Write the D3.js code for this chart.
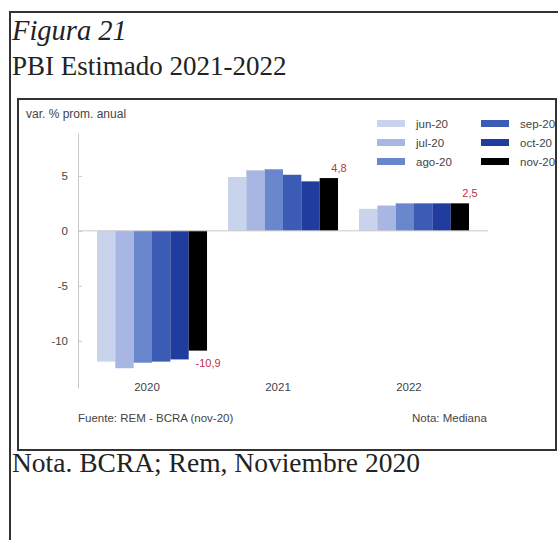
<!DOCTYPE html>
<html>
<head>
<meta charset="utf-8">
<script src="https://cdn.jsdelivr.net/npm/d3@7"></script>
<style>
  body { margin: 0; background: #fff; }
  svg { display: block; }
</style>
</head>
<body>
<div id="chart"></div>
<script>
// Data (var. % prom. anual)
const years = ['2020', '2021', '2022'];
const surveys = ['jun-20', 'jul-20', 'ago-20', 'sep-20', 'oct-20', 'nov-20'];
const junValues = [-11.9, 4.9, 2.0];
const julValues = [-12.5, 5.5, 2.3];
const agoValues = [-12.0, 5.6, 2.5];
const sepValues = [-11.9, 5.1, 2.5];
const octValues = [-11.7, 4.5, 2.5];
const novValues = [-10.9, 4.8, 2.5];
const yTicks = [5, 0, -5, -10];

const seriesValues = [junValues, julValues, agoValues, sepValues, octValues, novValues];
const colors = ['#c9d3ec', '#a7b6e2', '#6a86cc', '#3c5bb5', '#203c9e', '#000000'];

const width = 558;
const height = 540;

const svg = d3.select('#chart')
  .append('svg')
  .attr('width', width)
  .attr('height', height);

// Outer frame (open on the right, runs off the page)
svg.append('path')
  .attr('d', `M10,${height + 2} L10,12 L${width + 2},12`)
  .attr('fill', 'none')
  .attr('stroke', '#333')
  .attr('stroke-width', 2);

// Caption
const serif = '"Liberation Serif", "Times New Roman", serif';

svg.append('text')
  .attr('x', 12)
  .attr('y', 40)
  .attr('font-family', serif)
  .attr('font-style', 'italic')
  .attr('font-size', '28.5px')
  .attr('fill', '#222')
  .text('Figura 21');

svg.append('text')
  .attr('x', 12)
  .attr('y', 75)
  .attr('font-family', serif)
  .attr('font-size', '27px')
  .attr('fill', '#222')
  .text('PBI Estimado 2021-2022');

svg.append('text')
  .attr('x', 12)
  .attr('y', 472)
  .attr('font-family', serif)
  .attr('font-size', '27.5px')
  .attr('fill', '#222')
  .text('Nota. BCRA; Rem, Noviembre 2020');

// Inner chart box
svg.append('rect')
  .attr('x', 18)
  .attr('y', 99)
  .attr('width', 538)
  .attr('height', 351)
  .attr('fill', '#fff')
  .attr('stroke', '#333')
  .attr('stroke-width', 2);

const sans = '"Liberation Sans", Arial, sans-serif';

svg.append('text')
  .attr('x', 26)
  .attr('y', 118)
  .attr('font-family', sans)
  .attr('font-size', '12px')
  .attr('fill', '#444')
  .text('var. % prom. anual');

// Scales
const x0 = d3.scaleBand()
  .domain(years)
  .range([78, 488])
  .paddingInner(0.16)
  .paddingOuter(0.145);

const x1 = d3.scaleBand()
  .domain(surveys)
  .range([0, x0.bandwidth()]);

const y = d3.scaleLinear()
  .domain([-14.3, 8.9])
  .range([388, 133]);

// Y axis
const yAxis = svg.append('g')
  .attr('transform', 'translate(78,0)')
  .call(d3.axisLeft(y)
    .tickValues(yTicks)
    .tickFormat(d3.format('d'))
    .tickSize(-4)
    .tickSizeOuter(0)
    .tickPadding(10));

yAxis.select('.domain').attr('stroke', '#c8c8c8');
yAxis.selectAll('.tick line').attr('stroke', '#c8c8c8');
yAxis.selectAll('.tick text')
  .attr('font-family', sans)
  .attr('font-size', '11.5px')
  .attr('fill', '#444')
  .text(d => d < 0 ? '-' + Math.abs(d) : d);

// Bars
const groups = svg.append('g')
  .selectAll('g')
  .data(surveys)
  .join('g')
  .attr('fill', (d, i) => colors[i]);

groups.selectAll('rect')
  .data((s, i) => years.map((yr, j) => ({ year: yr, survey: s, value: seriesValues[i][j] })))
  .join('rect')
  .attr('x', d => x0(d.year) + x1(d.survey))
  .attr('y', d => y(Math.max(0, d.value)))
  .attr('width', x1.bandwidth())
  .attr('height', d => Math.abs(y(d.value) - y(0)));

// Zero line
svg.append('line')
  .attr('x1', 78)
  .attr('x2', 488)
  .attr('y1', y(0))
  .attr('y2', y(0))
  .attr('stroke', '#c8c8c8')
  .attr('stroke-width', 1);

// Labels on the latest survey
const fmt = v => d3.format('.1f')(v).replace('.', ',').replace('−', '-');
svg.append('g')
  .selectAll('text')
  .data(years.map((yr, j) => ({ year: yr, value: novValues[j] })))
  .join('text')
  .attr('x', d => x0(d.year) + x1('nov-20') + x1.bandwidth() + 1)
  .attr('y', d => d.value >= 0 ? y(d.value) - 6 : y(d.value) + 16)
  .attr('text-anchor', 'middle')
  .attr('font-family', sans)
  .attr('font-size', '11px')
  .attr('fill', '#c0304a')
  .text(d => fmt(d.value));

// X labels
svg.append('g')
  .selectAll('text')
  .data(years)
  .join('text')
  .attr('x', d => x0(d) + x0.bandwidth() / 2 - 5)
  .attr('y', 391)
  .attr('text-anchor', 'middle')
  .attr('font-family', sans)
  .attr('font-size', '11.5px')
  .attr('fill', '#444')
  .text(d => d);

// Legend (two columns of three)
const legend = svg.append('g')
  .selectAll('g')
  .data(surveys)
  .join('g')
  .attr('transform', (d, i) => `translate(${i < 3 ? 377 : 481},${120 + (i % 3) * 19})`);

legend.append('rect')
  .attr('width', 28)
  .attr('height', 7)
  .attr('fill', (d, i) => colors[i]);

legend.append('text')
  .attr('x', 39)
  .attr('y', 7.5)
  .attr('font-family', sans)
  .attr('font-size', '11.5px')
  .attr('fill', '#444')
  .text(d => d);

// Source / note
svg.append('text')
  .attr('x', 78)
  .attr('y', 422)
  .attr('font-family', sans)
  .attr('font-size', '11.5px')
  .attr('fill', '#444')
  .text('Fuente: REM - BCRA (nov-20)');

svg.append('text')
  .attr('x', 412)
  .attr('y', 422)
  .attr('font-family', sans)
  .attr('font-size', '11.5px')
  .attr('fill', '#444')
  .text('Nota: Mediana');
</script>
</body>
</html>
